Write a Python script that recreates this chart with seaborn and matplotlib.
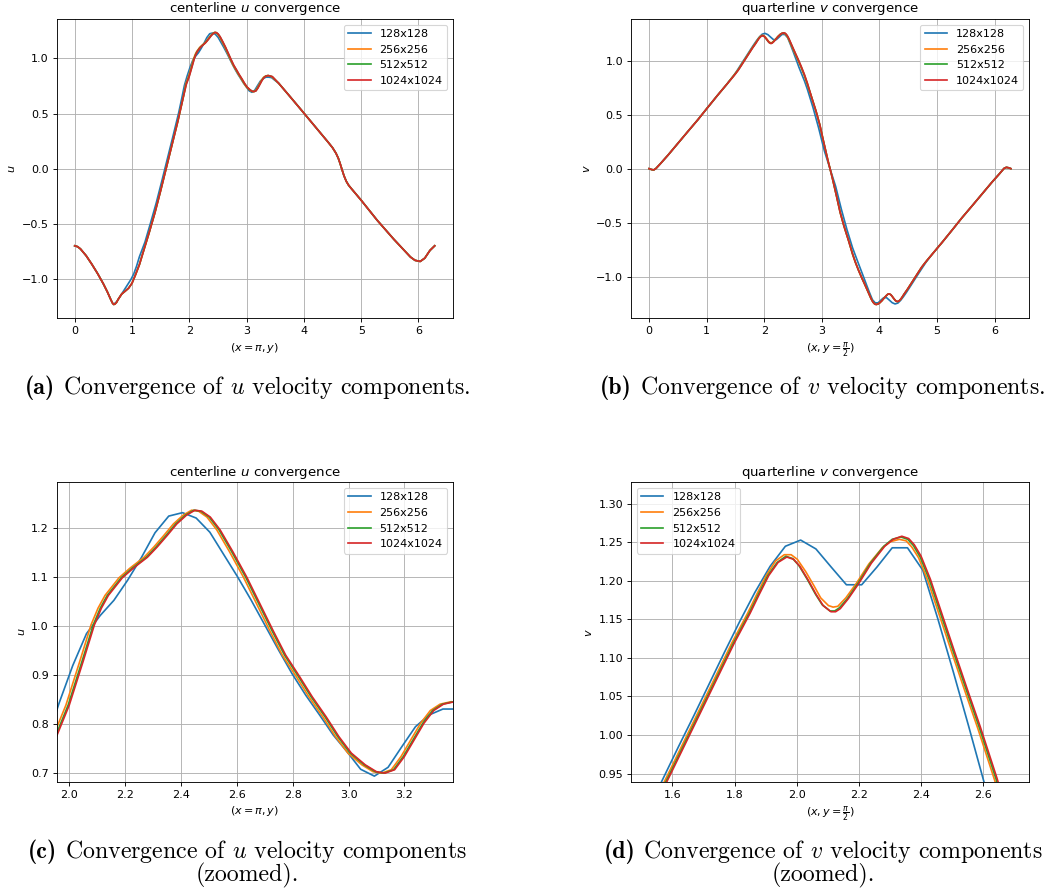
import matplotlib
matplotlib.use("Agg")
import matplotlib.pyplot as plt
from matplotlib.ticker import MultipleLocator
import pandas as pd
import seaborn as sns

# ---------------------------------------------------------------------------
# Grid resolutions and line colours
# ---------------------------------------------------------------------------
RESOLUTIONS = ["128x128", "256x256", "512x512", "1024x1024"]
COLORS = ["#1f77b4", "#ff7f0e", "#2ca02c", "#d62728"]

# ---------------------------------------------------------------------------
# u along the centerline x = pi  (position is y)
# ---------------------------------------------------------------------------
U_LEAD_POS = [0.00, 0.05, 0.10, 0.20, 0.30, 0.40, 0.50, 0.57, 0.63, 0.66, 0.68]
U_LEAD = [-0.700, -0.708, -0.728, -0.790, -0.868, -0.952, -1.045, -1.118, -1.188, -1.220, -1.232]

U_RISE_POS = [0.70, 0.73, 0.76, 0.82, 0.88, 0.94, 1.00, 1.06, 1.13, 1.20, 1.30, 1.40, 1.50,
              1.60, 1.70, 1.80, 1.90]
U_RISE = [-1.230, -1.214, -1.185, -1.138, -1.112, -1.085, -1.040, -0.965, -0.870, -0.750,
          -0.580, -0.400, -0.200, 0.010, 0.220, 0.430, 0.660]

U128_RISE_POS = [0.7363, 0.7854, 0.8836, 0.9817, 1.0308, 1.0799, 1.1290, 1.2272, 1.3254,
                 1.4235, 1.5217, 1.6199, 1.7181, 1.8162]
U128_RISE = [-1.205, -1.165, -1.085, -1.005, -0.955, -0.885, -0.800, -0.665, -0.490,
             -0.310, -0.110, 0.095, 0.300, 0.510]

U1024_PEAK_POS = [1.95, 2.00, 2.05, 2.09, 2.115, 2.14, 2.19, 2.23, 2.28, 2.315,
                  2.35, 2.385, 2.42, 2.45, 2.475, 2.505, 2.54, 2.585, 2.635, 2.68,
                  2.73, 2.775, 2.825, 2.87, 2.92, 2.965, 3.01, 3.06, 3.10, 3.13,
                  3.165, 3.20, 3.235, 3.27, 3.305, 3.34, 3.38, 3.45]
U512_PEAK_POS = [1.946, 1.996, 2.046, 2.086, 2.111, 2.136, 2.186, 2.226, 2.276, 2.311,
                 2.346, 2.381, 2.416, 2.446, 2.471, 2.501, 2.536, 2.581, 2.631, 2.676,
                 2.726, 2.771, 2.821, 2.866, 2.916, 2.961, 3.006, 3.056, 3.096, 3.126,
                 3.161, 3.196, 3.231, 3.266, 3.301, 3.336, 3.376, 3.446]
U256_PEAK_POS = [1.938, 1.988, 2.038, 2.078, 2.103, 2.128, 2.178, 2.218, 2.268, 2.303,
                 2.338, 2.373, 2.408, 2.438, 2.463, 2.493, 2.528, 2.573, 2.623, 2.668,
                 2.718, 2.763, 2.813, 2.858, 2.908, 2.953, 2.998, 3.048, 3.088, 3.118,
                 3.153, 3.188, 3.223, 3.258, 3.293, 3.328, 3.368, 3.438]
U_PEAK = [0.768, 0.838, 0.928, 1.002, 1.036, 1.062, 1.098, 1.118, 1.140, 1.161,
          1.184, 1.208, 1.226, 1.236, 1.234, 1.222, 1.196, 1.152, 1.100, 1.048,
          0.990, 0.940, 0.896, 0.855, 0.814, 0.774, 0.740, 0.716, 0.702, 0.699,
          0.706, 0.733, 0.767, 0.801, 0.827, 0.840, 0.845, 0.835]

U128_PEAK_POS = [1.8653, 1.9144, 1.9635, 2.0126, 2.0617, 2.1108, 2.1598, 2.2089, 2.2580,
                 2.3071, 2.3562, 2.4053, 2.4544, 2.5035, 2.5525, 2.6016, 2.6507, 2.6998,
                 2.7489, 2.7980, 2.8471, 2.8962, 2.9452, 2.9943, 3.0434, 3.0925, 3.1416,
                 3.1907, 3.2398, 3.2889, 3.3380, 3.3870, 3.4361, 3.4852]
U128_PEAK = [0.630, 0.755, 0.842, 0.919, 0.984, 1.021, 1.052, 1.093, 1.139,
             1.190, 1.224, 1.231, 1.220, 1.191, 1.146, 1.101, 1.053, 1.002,
             0.951, 0.902, 0.858, 0.818, 0.777, 0.743, 0.707, 0.693, 0.711,
             0.753, 0.794, 0.818, 0.830, 0.830, 0.826, 0.805]

U_TAIL_POS = [3.56, 3.74, 3.91, 4.08, 4.25, 4.42, 4.50, 4.56, 4.60, 4.63, 4.66, 4.70,
              4.74, 4.78, 4.83, 4.90, 5.00, 5.28, 5.57, 5.86, 5.94, 6.03, 6.11, 6.20, 6.283]
U_TAIL = [0.775, 0.665, 0.560, 0.454, 0.348, 0.242, 0.190, 0.140, 0.095, 0.050, 0.000,
          -0.065, -0.115, -0.150, -0.182, -0.225, -0.287, -0.469, -0.641, -0.802, -0.832,
          -0.842, -0.812, -0.742, -0.700]

# ---------------------------------------------------------------------------
# v along the quarterline y = pi/2  (position is x)
# ---------------------------------------------------------------------------
V_LEAD_POS = [0.00, 0.04, 0.08, 0.12, 0.20, 0.33, 0.50, 0.67, 0.85, 1.00, 1.19, 1.36]
V_LEAD = [0.000, -0.008, -0.012, 0.002, 0.048, 0.126, 0.234, 0.342, 0.455, 0.555, 0.680, 0.788]

V1024_PEAK_POS = [1.45, 1.50, 1.55, 1.60, 1.70, 1.80, 1.85, 1.88, 1.91, 1.94,
                  1.968, 1.99, 2.01, 2.037, 2.063, 2.085, 2.11, 2.125, 2.14, 2.166,
                  2.20, 2.24, 2.283, 2.31, 2.338, 2.36, 2.378, 2.40, 2.43, 2.463,
                  2.506, 2.548, 2.59, 2.644, 2.70, 2.75]
V1024_PEAK = [0.845, 0.878, 0.913, 0.954, 1.037, 1.120, 1.158, 1.183, 1.207, 1.224,
              1.231, 1.228, 1.219, 1.201, 1.182, 1.168, 1.160, 1.160, 1.164, 1.177,
              1.197, 1.223, 1.245, 1.254, 1.258, 1.255, 1.247, 1.232, 1.202, 1.162,
              1.110, 1.060, 1.011, 0.944, 0.868, 0.790]

V512_PEAK_POS = [1.447, 1.497, 1.547, 1.597, 1.697, 1.797, 1.847, 1.877, 1.907, 1.937,
                 1.965, 1.987, 2.007, 2.034, 2.060, 2.082, 2.107, 2.122, 2.137, 2.163,
                 2.197, 2.237, 2.280, 2.307, 2.335, 2.357, 2.375, 2.397, 2.427, 2.460,
                 2.503, 2.545, 2.587, 2.641, 2.697, 2.747]
V512_PEAK = [0.845, 0.878, 0.913, 0.954, 1.037, 1.120, 1.158, 1.183, 1.207, 1.224,
             1.232, 1.229, 1.220, 1.202, 1.183, 1.169, 1.161, 1.161, 1.165, 1.177,
             1.197, 1.223, 1.245, 1.254, 1.257, 1.254, 1.246, 1.231, 1.201, 1.161,
             1.109, 1.059, 1.010, 0.943, 0.867, 0.789]

V256_PEAK_POS = [1.442, 1.492, 1.542, 1.592, 1.692, 1.792, 1.842, 1.872, 1.902, 1.932,
                 1.960, 1.982, 2.002, 2.029, 2.055, 2.077, 2.102, 2.117, 2.132, 2.158,
                 2.192, 2.232, 2.275, 2.302, 2.330, 2.352, 2.370, 2.392, 2.422, 2.455,
                 2.498, 2.540, 2.582, 2.636, 2.692, 2.742]
V256_PEAK = [0.845, 0.878, 0.913, 0.954, 1.037, 1.120, 1.158, 1.183, 1.207, 1.226,
             1.234, 1.234, 1.228, 1.212, 1.194, 1.178, 1.168, 1.166, 1.167, 1.178,
             1.197, 1.222, 1.243, 1.251, 1.254, 1.252, 1.244, 1.230, 1.200, 1.160,
             1.108, 1.058, 1.009, 0.942, 0.866, 0.788]

V128_POS = [1.3744, 1.4235, 1.4726, 1.5217, 1.5708, 1.6199, 1.6690, 1.7181, 1.7671, 1.8162,
            1.8653, 1.9144, 1.9635, 2.0126, 2.0617, 2.1108, 2.1598, 2.2089, 2.2580, 2.3071,
            2.3562, 2.4053, 2.4544, 2.5035, 2.5525, 2.6016, 2.6507, 2.6998, 2.7489, 2.7980,
            2.8471, 2.9452, 3.0434, 3.1416, 3.2398, 3.3380, 3.4361, 3.5343, 3.6325, 3.7306,
            3.7797, 3.8288, 3.8779, 3.9270, 3.9761, 4.0252, 4.0743, 4.1233, 4.1724, 4.2215,
            4.2706, 4.3197, 4.3688, 4.4179, 4.4670, 4.5160, 4.6142, 4.7124, 4.8106]
V128 = [0.800, 0.832, 0.865, 0.903, 0.944, 0.985, 1.025, 1.066, 1.107, 1.147,
        1.185, 1.219, 1.245, 1.253, 1.2415, 1.218, 1.195, 1.195, 1.218, 1.243,
        1.243, 1.214, 1.150, 1.082, 1.012, 0.940, 0.875, 0.810, 0.735, 0.650,
        0.565, 0.375, 0.165, 0.000, -0.165, -0.375, -0.565, -0.735, -0.875, -1.012,
        -1.082, -1.150, -1.214, -1.243, -1.243, -1.218, -1.195, -1.195, -1.218, -1.2415,
        -1.253, -1.245, -1.219, -1.185, -1.147, -1.107, -1.025, -0.944, -0.865]

V_DESC_POS = [2.82, 2.90, 2.965, 3.03, 3.106, 3.1416, 3.177, 3.253, 3.318, 3.383,
              3.463, 3.533, 3.583, 3.639, 3.693, 3.735, 3.777, 3.820, 3.853, 3.883,
              3.905, 3.923, 3.945, 3.973, 4.000, 4.043, 4.083, 4.117, 4.143, 4.158,
              4.173, 4.198, 4.220, 4.246, 4.273, 4.293, 4.315, 4.343, 4.373, 4.403,
              4.433, 4.483, 4.583, 4.683, 4.733, 4.783, 4.833]
V_DESC = [0.665, 0.530, 0.405, 0.250, 0.075, 0.000, -0.075, -0.250, -0.405, -0.530,
          -0.665, -0.790, -0.868, -0.944, -1.011, -1.060, -1.110, -1.162, -1.202, -1.232,
          -1.247, -1.255, -1.258, -1.254, -1.245, -1.223, -1.197, -1.177, -1.164, -1.160,
          -1.160, -1.168, -1.182, -1.201, -1.219, -1.228, -1.231, -1.224, -1.207, -1.183,
          -1.158, -1.120, -1.037, -0.954, -0.913, -0.878, -0.845]

V_END_POS = [4.923, 5.093, 5.283, 5.433, 5.613, 5.783, 5.953, 6.083, 6.163, 6.203, 6.243, 6.283]
V_END = [-0.788, -0.680, -0.555, -0.455, -0.342, -0.234, -0.126, -0.048, 0.002, 0.012,
         0.008, 0.000]


def long_frame(series):
    """Stack {resolution: (positions, values)} into one long table."""
    frames = []
    for name in RESOLUTIONS:
        pos, val = series[name]
        frames.append(pd.DataFrame({"pos": pos, "value": val, "resolution": name}))
    return pd.concat(frames, ignore_index=True)


u_df = long_frame({
    "128x128": (U_LEAD_POS + U128_RISE_POS + U128_PEAK_POS + U_TAIL_POS,
                U_LEAD + U128_RISE + U128_PEAK + U_TAIL),
    "256x256": (U_LEAD_POS + U_RISE_POS + U256_PEAK_POS + U_TAIL_POS,
                U_LEAD + U_RISE + U_PEAK + U_TAIL),
    "512x512": (U_LEAD_POS + U_RISE_POS + U512_PEAK_POS + U_TAIL_POS,
                U_LEAD + U_RISE + U_PEAK + U_TAIL),
    "1024x1024": (U_LEAD_POS + U_RISE_POS + U1024_PEAK_POS + U_TAIL_POS,
                  U_LEAD + U_RISE + U_PEAK + U_TAIL),
})

v_df = long_frame({
    "128x128": (V_LEAD_POS + V128_POS + V_END_POS, V_LEAD + V128 + V_END),
    "256x256": (V_LEAD_POS + V256_PEAK_POS + V_DESC_POS + V_END_POS,
                V_LEAD + V256_PEAK + V_DESC + V_END),
    "512x512": (V_LEAD_POS + V512_PEAK_POS + V_DESC_POS + V_END_POS,
                V_LEAD + V512_PEAK + V_DESC + V_END),
    "1024x1024": (V_LEAD_POS + V1024_PEAK_POS + V_DESC_POS + V_END_POS,
                  V_LEAD + V1024_PEAK + V_DESC + V_END),
})

# ---------------------------------------------------------------------------
# Styling: each panel mimics a default 6.4x4.8 in figure shrunk to ~80 %
# ---------------------------------------------------------------------------
S = 0.805
plt.rcParams.update({
    "font.family": "DejaVu Sans",
    "font.size": 10 * S,
    "axes.titlesize": 12 * S,
    "axes.titlepad": 6 * S,
    "axes.labelpad": 4 * S,
    "axes.linewidth": 0.8 * S,
    "xtick.major.size": 3.5 * S,
    "ytick.major.size": 3.5 * S,
    "xtick.major.width": 0.8 * S,
    "ytick.major.width": 0.8 * S,
    "xtick.major.pad": 3.5 * S,
    "ytick.major.pad": 3.5 * S,
    "grid.linewidth": 0.8 * S,
    "grid.color": "#b0b0b0",
    "legend.fontsize": 10 * S,
    "patch.linewidth": 1.0 * S,
})

W, H = 1058, 894
fig = plt.figure(figsize=(W / 100, H / 100), dpi=100)


def px_axes(left, top, right, bottom):
    return fig.add_axes([left / W, 1 - bottom / H, (right - left) / W, (bottom - top) / H])


panels = [
    dict(rect=(56.7, 19, 452.7, 318.3), df=u_df, title="centerline $u$ convergence",
         xlabel=r"$(x = \pi, y)$", ylabel="$u$", xlim=(-0.314, 6.597), ylim=(-1.358, 1.358),
         xstep=1, ystep=0.5, loc="upper right"),
    dict(rect=(631, 19, 1029, 318.3), df=v_df, title="quarterline $v$ convergence",
         xlabel=r"$(x, y = \frac{\pi}{2})$", ylabel="$v$", xlim=(-0.314, 6.597),
         ylim=(-1.386, 1.386), xstep=1, ystep=0.5, loc="upper right"),
    dict(rect=(56.7, 482.3, 452.7, 782), df=u_df, title="centerline $u$ convergence",
         xlabel=r"$(x = \pi, y)$", ylabel="$u$", xlim=(1.955, 3.373), ylim=(0.681, 1.293),
         xstep=0.2, ystep=0.1, loc="upper right"),
    dict(rect=(631, 482.3, 1029, 782), df=v_df, title="quarterline $v$ convergence",
         xlabel=r"$(x, y = \frac{\pi}{2})$", ylabel="$v$", xlim=(1.467, 2.747),
         ylim=(0.939, 1.328), xstep=0.2, ystep=0.05, loc="upper left"),
]

for p in panels:
    ax = px_axes(*p["rect"])
    sns.lineplot(data=p["df"], x="pos", y="value", hue="resolution",
                 hue_order=RESOLUTIONS, palette=COLORS, estimator=None, sort=False,
                 linewidth=1.5 * S, ax=ax)
    ax.set_xlim(*p["xlim"])
    ax.set_ylim(*p["ylim"])
    ax.xaxis.set_major_locator(MultipleLocator(p["xstep"]))
    ax.yaxis.set_major_locator(MultipleLocator(p["ystep"]))
    ax.grid(True)
    ax.set_title(p["title"])
    ax.set_xlabel(p["xlabel"])
    ax.set_ylabel(p["ylabel"])
    handles, labels = ax.get_legend_handles_labels()
    ax.legend(handles, labels, loc=p["loc"])

# ---------------------------------------------------------------------------
# Sub-figure captions in a Computer Modern look: bold tag + roman text
# ---------------------------------------------------------------------------
CAP_SIZE = 17.2
renderer = fig.canvas.get_renderer()


def caption(cx, baseline, tag, body):
    y = 1 - baseline / H
    parts = []
    if tag:
        parts.append(fig.text(0, y, tag, fontsize=CAP_SIZE, family="cmb10", va="baseline"))
    parts.append(fig.text(0, y, body, fontsize=CAP_SIZE, family="cmr10",
                          math_fontfamily="cm", va="baseline"))
    gap = CAP_SIZE * 0.45
    widths = [t.get_window_extent(renderer).width for t in parts]
    total = sum(widths) + gap * (len(parts) - 1)
    x = cx - total / 2
    for t, w in zip(parts, widths):
        t.set_x(x / W)
        x += w + gap


caption(247.5, 394, "(a)", r"Convergence of $u$ velocity components.")
caption(822.5, 394, "(b)", r"Convergence of $v$ velocity components.")
caption(247.5, 858, "(c)", r"Convergence of $u$ velocity components")
caption(247.5, 881.5, None, "(zoomed).")
caption(823.5, 858, "(d)", r"Convergence of $v$ velocity components")
caption(823.5, 881.5, None, "(zoomed).")

fig.savefig("out.png", dpi=100)
